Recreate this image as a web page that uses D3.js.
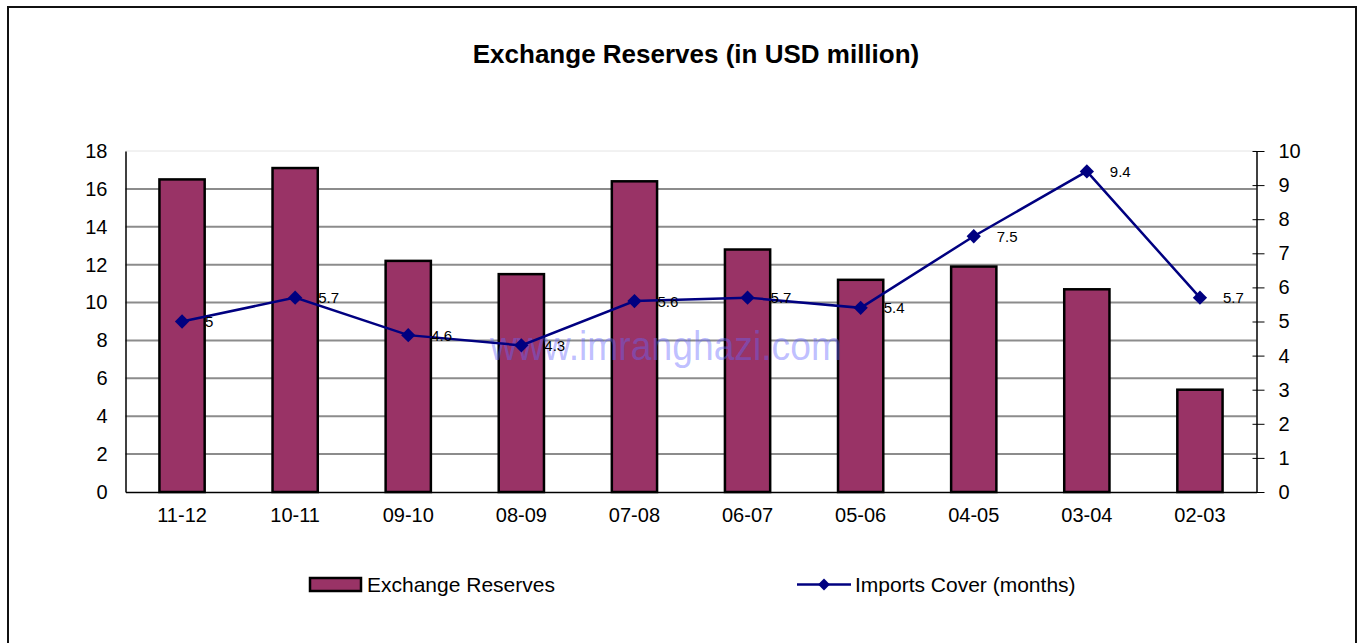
<!DOCTYPE html>
<html>
<head>
<meta charset="utf-8">
<script src="https://cdn.jsdelivr.net/npm/d3@7"></script>
<style>
  html, body { margin: 0; padding: 0; background: #fff; }
  svg { display: block; font-family: "Liberation Sans", Arial, sans-serif; }
</style>
</head>
<body>
<svg id="chart" width="1363" height="643"></svg>
<script>
// Fiscal years, newest first
const years = ["11-12", "10-11", "09-10", "08-09", "07-08", "06-07", "05-06", "04-05", "03-04", "02-03"];
// Exchange reserves, USD (bars, left axis)
const reserves = [16.5, 17.1, 12.2, 11.5, 16.4, 12.8, 11.2, 11.9, 10.7, 5.4];
// Imports cover in months (line, right axis)
const importsCover = [5, 5.7, 4.6, 4.3, 5.6, 5.7, 5.4, 7.5, 9.4, 5.7];
// Axis ticks
const leftTicks = [0, 2, 4, 6, 8, 10, 12, 14, 16, 18];
const rightTicks = [0, 1, 2, 3, 4, 5, 6, 7, 8, 9, 10];

const svg = d3.select("#chart");
const plot = { left: 125.5, right: 1256.5, top: 151, bottom: 492 };

const x = d3.scaleBand().domain(years).range([plot.left, plot.right])
  .paddingInner(0.6).paddingOuter(0.3);
const yL = d3.scaleLinear().domain([0, 18]).range([plot.bottom, plot.top]);
const yR = d3.scaleLinear().domain([0, 10]).range([plot.bottom, plot.top]);
const cx = d => x(d) + x.bandwidth() / 2;

// Outer frame
svg.append("rect").attr("x", 8).attr("y", 7).attr("width", 1348).attr("height", 650)
  .attr("fill", "#fff").attr("stroke", "#111").attr("stroke-width", 2);

// Title
svg.append("text").attr("x", 696).attr("y", 63).attr("text-anchor", "middle")
  .attr("font-size", 26).attr("font-weight", "bold").attr("fill", "#000")
  .text("Exchange Reserves (in USD million)");

// Plot-area top edge
svg.append("line").attr("x1", plot.left).attr("x2", plot.right)
  .attr("y1", plot.top).attr("y2", plot.top).attr("stroke", "#e4e4e4").attr("stroke-width", 1);

// Horizontal gridlines (left axis)
svg.append("g").selectAll("line").data(leftTicks.filter(t => t > 0 && t < 18)).join("line")
  .attr("x1", plot.left).attr("x2", plot.right)
  .attr("y1", d => yL(d)).attr("y2", d => yL(d))
  .attr("stroke", "#8c8c8c").attr("stroke-width", 2);

// Left axis
const leftAxis = svg.append("g").attr("transform", `translate(${plot.left},0)`)
  .call(d3.axisLeft(yL).tickValues(leftTicks).tickSize(0).tickPadding(18).tickFormat(d3.format("d")));
leftAxis.select(".domain").attr("stroke", "#000").attr("stroke-width", 1.5);
leftAxis.selectAll("text").attr("font-size", 20).attr("fill", "#000")
  .attr("font-family", "Liberation Sans, Arial, sans-serif");

// Right axis
const rightAxis = svg.append("g").attr("transform", `translate(${plot.right},0)`)
  .call(d3.axisRight(yR).tickValues(rightTicks).tickSizeInner(8).tickSizeOuter(0).tickPadding(14).tickFormat(d3.format("d")));
rightAxis.select(".domain").attr("stroke", "#000").attr("stroke-width", 1.5);
rightAxis.selectAll(".tick line").attr("x1", -4).attr("stroke", "#000").attr("stroke-width", 1);
rightAxis.selectAll("text").attr("font-size", 20).attr("fill", "#000")
  .attr("font-family", "Liberation Sans, Arial, sans-serif");

// Bars
svg.append("g").selectAll("rect").data(years).join("rect")
  .attr("x", d => x(d))
  .attr("y", (d, i) => yL(reserves[i]))
  .attr("width", x.bandwidth())
  .attr("height", (d, i) => yL(0) - yL(reserves[i]))
  .attr("fill", "#993366").attr("stroke", "#000").attr("stroke-width", 2.5);

// Category axis
const bottomAxis = svg.append("g").attr("transform", `translate(0,${plot.bottom})`)
  .call(d3.axisBottom(x).tickSize(0).tickPadding(16));
bottomAxis.select(".domain").attr("stroke", "#000").attr("stroke-width", 1.5);
bottomAxis.selectAll("text").attr("font-size", 20).attr("fill", "#000")
  .attr("font-family", "Liberation Sans, Arial, sans-serif");

// Watermark
svg.append("text").attr("x", 490).attr("y", 360)
  .attr("font-size", 40).attr("fill", "#6666ff").attr("fill-opacity", 0.42)
  .attr("textLength", 352).attr("lengthAdjust", "spacingAndGlyphs")
  .text("www.imranghazi.com");

// Imports cover line
const line = d3.line().x((d, i) => cx(years[i])).y(d => yR(d));
svg.append("path").datum(importsCover).attr("d", line)
  .attr("fill", "none").attr("stroke", "#000080").attr("stroke-width", 2.5);

const diamond = d3.symbol().type(d3.symbolDiamond2).size(130);
svg.append("g").selectAll("path").data(importsCover).join("path")
  .attr("d", diamond)
  .attr("transform", (d, i) => `translate(${cx(years[i])},${yR(d)})`)
  .attr("fill", "#000080");

// Value labels
svg.append("g").selectAll("text").data(importsCover).join("text")
  .attr("x", (d, i) => cx(years[i]) + 23)
  .attr("y", d => yR(d) + 5.5)
  .attr("font-size", 15).attr("fill", "#000")
  .text(d => d);

// Legend
const lg = svg.append("g");
lg.append("rect").attr("x", 310).attr("y", 578).attr("width", 51).attr("height", 13)
  .attr("fill", "#993366").attr("stroke", "#000").attr("stroke-width", 2.5);
lg.append("text").attr("x", 367).attr("y", 592).attr("font-size", 21).attr("fill", "#000")
  .text("Exchange Reserves");
lg.append("line").attr("x1", 797).attr("x2", 851).attr("y1", 584.5).attr("y2", 584.5)
  .attr("stroke", "#000080").attr("stroke-width", 2.5);
lg.append("path").attr("d", d3.symbol().type(d3.symbolDiamond2).size(90))
  .attr("transform", "translate(824,584.5)").attr("fill", "#000080");
lg.append("text").attr("x", 855).attr("y", 592).attr("font-size", 21).attr("fill", "#000")
  .text("Imports Cover (months)");
</script>
</body>
</html>
